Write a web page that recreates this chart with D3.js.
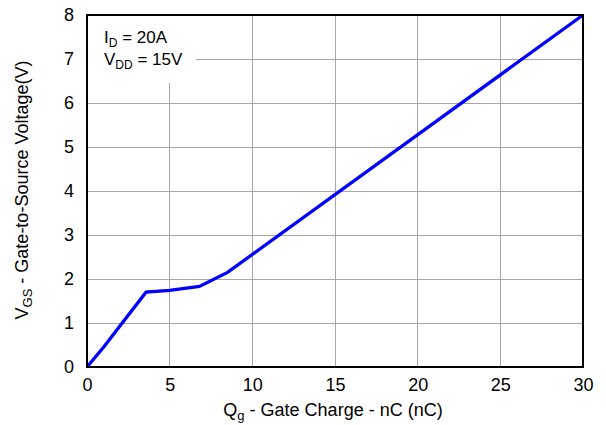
<!DOCTYPE html>
<html><head><meta charset="utf-8">
<script src="https://cdn.jsdelivr.net/npm/d3@7"></script>
<style>body{margin:0;background:#fff}svg{display:block;font-family:"Liberation Sans",Arial,sans-serif}</style>
</head><body><svg id="c" width="606" height="425"></svg>
<script>
const qg = [0, 1, 3.57, 5, 6.8, 8.5, 30];
const vgs = [0, 0.45, 1.70, 1.74, 1.83, 2.15, 8];
const xTicks = [0, 5, 10, 15, 20, 25, 30];
const yTicks = [0, 1, 2, 3, 4, 5, 6, 7, 8];

const svg = d3.select("#c");
const L = 87, R = 583, T = 15, B = 367;
const x = d3.scaleLinear().domain([0, 30]).range([L, R]);
const y = d3.scaleLinear().domain([0, 8]).range([B, T]);

// grid
svg.append("g").selectAll("line").data(xTicks.slice(1, -1)).join("line")
  .attr("x1", d => x(d)).attr("x2", d => x(d)).attr("y1", T).attr("y2", B)
  .attr("stroke", "#a6a6a6").attr("stroke-width", 1).attr("shape-rendering", "crispEdges");
svg.append("g").selectAll("line").data(yTicks.slice(1, -1)).join("line")
  .attr("x1", L).attr("x2", R).attr("y1", d => y(d)).attr("y2", d => y(d))
  .attr("stroke", "#a6a6a6").attr("stroke-width", 1).attr("shape-rendering", "crispEdges");

// annotation background
svg.append("rect").attr("x", L + 1).attr("y", T + 1).attr("width", 108).attr("height", 67).attr("fill", "#fff");

// curve
svg.append("path").datum(qg.map((q, i) => [q, vgs[i]]))
  .attr("d", d3.line().x(d => x(d[0])).y(d => y(d[1])))
  .attr("fill", "none").attr("stroke", "#0000ff").attr("stroke-width", 3.3).attr("stroke-linejoin", "miter");

// frame
svg.append("rect").attr("x", L).attr("y", T).attr("width", R - L).attr("height", B - T)
  .attr("fill", "none").attr("stroke", "#000").attr("stroke-width", 2);

// axes tick labels
const xa = svg.append("g").attr("transform", `translate(0,${B})`)
  .call(d3.axisBottom(x).tickValues(xTicks).tickSize(0).tickPadding(11));
xa.select(".domain").remove();
xa.selectAll("text").attr("font-size", 18).attr("fill", "#000").attr("font-family", "Liberation Sans, Arial, sans-serif");
const ya = svg.append("g").attr("transform", `translate(${L},0)`)
  .call(d3.axisLeft(y).tickValues(yTicks).tickSize(0).tickPadding(13));
ya.select(".domain").remove();
ya.selectAll("text").attr("font-size", 18).attr("fill", "#000").attr("font-family", "Liberation Sans, Arial, sans-serif");

// axis titles
const xt = svg.append("text").attr("x", 333).attr("y", 416).attr("text-anchor", "middle").attr("font-size", 18);
xt.append("tspan").text("Q");
xt.append("tspan").attr("font-size", 13).attr("dy", 4).text("g");
xt.append("tspan").attr("dy", -4).text(" - Gate Charge - nC (nC)");

const yt = svg.append("text").attr("transform", "translate(28,190) rotate(-90)").attr("text-anchor", "middle").attr("font-size", 18);
yt.append("tspan").text("V");
yt.append("tspan").attr("font-size", 13).attr("dy", 4).text("GS");
yt.append("tspan").attr("dy", -4).text(" - Gate-to-Source Voltage(V)");

// annotation
const a1 = svg.append("text").attr("x", 104).attr("y", 43).attr("font-size", 17);
a1.append("tspan").text("I");
a1.append("tspan").attr("font-size", 12).attr("dy", 4).text("D");
a1.append("tspan").attr("dy", -4).text(" = 20A");
const a2 = svg.append("text").attr("x", 104).attr("y", 65).attr("font-size", 17);
a2.append("tspan").text("V");
a2.append("tspan").attr("font-size", 12).attr("dy", 4).text("DD");
a2.append("tspan").attr("dy", -4).text(" = 15V");
</script></body></html>
